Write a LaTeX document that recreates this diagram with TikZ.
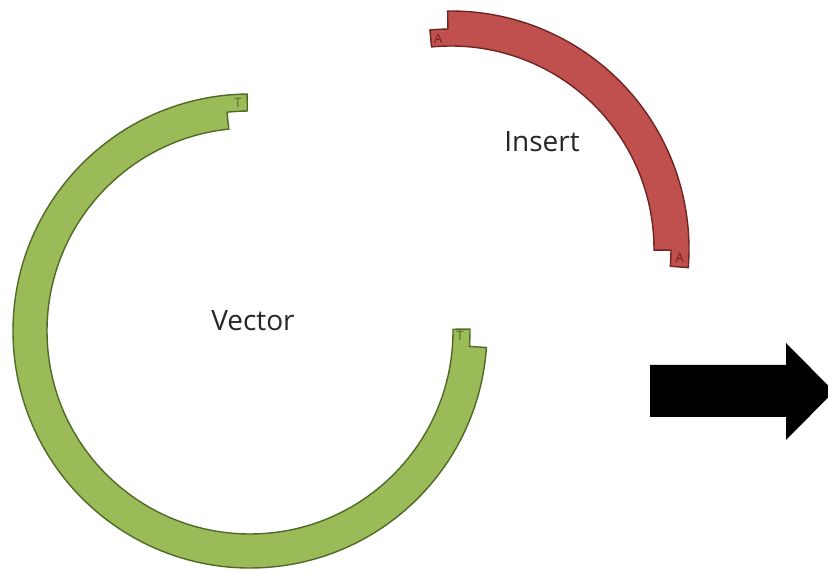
\documentclass[tikz,border=0pt]{standalone}
\usepackage{fontspec}
\setmainfont{Open Sans}
\definecolor{vecfill}{HTML}{9BBB59}
\definecolor{vecline}{HTML}{4F6A26}
\definecolor{insfill}{HTML}{C0504D}
\definecolor{insline}{HTML}{6E2422}
\begin{document}
\begin{tikzpicture}[x=1pt,y=1pt,
  strand/.style={line width=1.4pt, line join=miter},
  label/.style={font=\fontsize{28}{30}\selectfont, text=black!85},
  overhang/.style={font=\fontsize{13}{14}\selectfont, inner sep=0pt}]
\useasboundingbox (0,0) rectangle (828,573);

% vector ring with its two T overhangs
\begin{scope}[shift={(250,242)}]
  \draw[strand, fill=vecfill, draw=vecline]
    (90.7:237) arc[start angle=90.7, end angle=356, radius=237]
    -- (356:220) arc[start angle=356, end angle=360.5, radius=220]
    -- (360.5:203) arc[start angle=360.5, end angle=96, radius=203]
    -- (96:220) arc[start angle=96, end angle=90.7, radius=220]
    -- cycle;
  \node[overhang, text=vecline] (t1) at (93:228) {T};
  \node[overhang, text=vecline] (t2) at (358.8:210) {T};
  \node[label] (vector) at (3,10) {Vector};
\end{scope}

% insert fragment with its two A overhangs
\begin{scope}[shift={(451,324)}]
  \draw[strand, fill=insfill, draw=insline]
    (90.8:238) arc[start angle=90.8, end angle=-4.5, radius=238]
    -- (-4.5:220) arc[start angle=-4.5, end angle=-0.3, radius=220]
    -- (-0.3:203) arc[start angle=-0.3, end angle=95.5, radius=203]
    -- (95.5:220) arc[start angle=95.5, end angle=90.8, radius=220]
    -- cycle;
  \node[overhang, text=insline] (a1) at (93.5:211) {A};
  \node[overhang, text=insline] (a2) at (-2.3:229) {A};
  \node[label] (insert) at (91,107) {Insert};
\end{scope}

% block arrow
\fill[black] (650,208) -- (786,208) -- (786,230) -- (834,181.5)
  -- (786,133) -- (786,156) -- (650,156) -- cycle;
\end{tikzpicture}
\end{document}
